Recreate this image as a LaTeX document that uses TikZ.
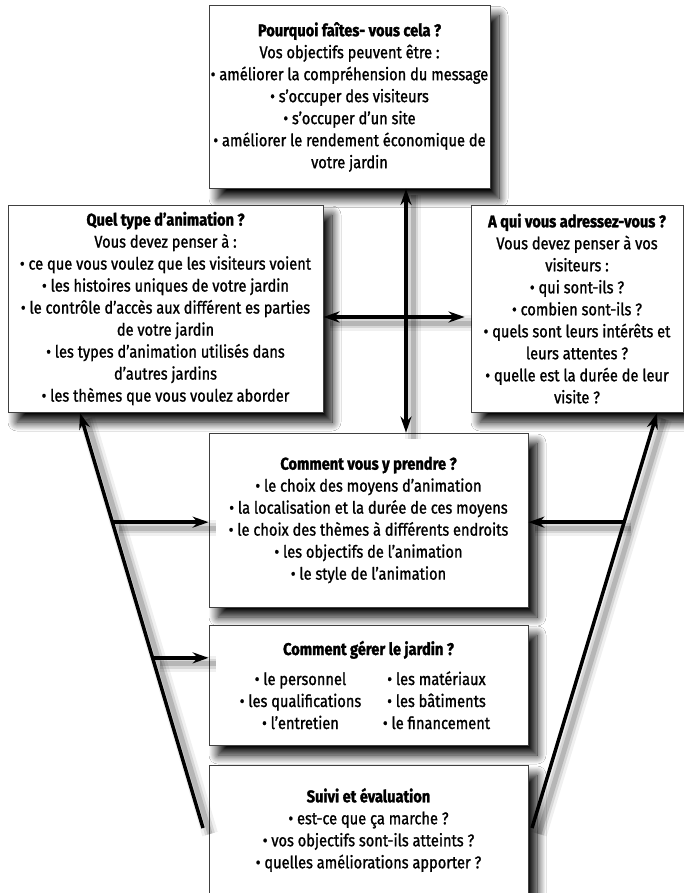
\documentclass[tikz,border=0pt]{standalone}
\usepackage{fontspec}
\setmainfont{Fira Sans}[FakeStretch=0.86, UprightFeatures={FakeBold=1.2}, BoldFeatures={FakeBold=1.5}]
\usetikzlibrary{arrows.meta, shadows.blur}
\tikzstyle{box} = [rectangle, draw=black!75, line width=0.8pt, fill=white, align=center, inner sep=0pt, font=\fontsize{17}{22}\selectfont, blur shadow={shadow xshift=9pt, shadow yshift=-10pt, shadow blur radius=9pt, shadow blur steps=15, shadow opacity=100}]
\tikzstyle{arrow} = [line width=3.5pt, -{Stealth[length=16pt,width=11pt]}]
\tikzstyle{darrow} = [line width=3.5pt, {Stealth[length=16pt,width=11pt]}-{Stealth[length=16pt,width=11pt]}]
\tikzstyle{soft} = [preaction={draw=black, -, line width=16pt, opacity=0.06, transform canvas={shift={(7pt,-6pt)}}},
  preaction={draw=black, -, line width=10pt, opacity=0.1, transform canvas={shift={(7pt,-6pt)}}},
  preaction={draw=black, -, line width=5pt, opacity=0.15, transform canvas={shift={(7pt,-6pt)}}}]

\begin{document}
\begin{tikzpicture}[x=1pt, y=-1pt]

\useasboundingbox (0,0) rectangle (684,893);
\clip (0,0) rectangle (684,893);
\fill[white] (0,0) rectangle (684,893);

%% NODES

\node (pourquoi) [box, minimum width=281pt, minimum height=183pt] at (349.5,97) {\textbf{Pourquoi faîtes- vous cela~?}\\
Vos objectifs peuvent être~:\\
• améliorer la compréhension du message\\
• s’occuper des visiteurs\\
• s’occuper d’un site\\
• améliorer le rendement économique de\\
votre jardin};
\node (quel) [box, minimum width=315pt, minimum height=207pt] at (165.5,308.5) {\textbf{Quel type d’animation~?}\\
Vous devez penser à~:\\
• ce que vous voulez que les visiteurs voient\\
• les histoires uniques de votre jardin\\
• le contrôle d’accès aux différent es parties\\
de votre jardin\\
• les types d’animation utilisés dans\\
d’autres jardins\\
• les thèmes que vous voulez aborder};
\node (aqui) [box, minimum width=212pt, minimum height=207pt] at (577,308.5) {\textbf{A qui vous adressez-vous~?}\\
Vous devez penser à vos\\
visiteurs~:\\
• qui sont-ils~?\\
• combien sont-ils~?\\
• quels sont leurs intérêts et\\
leurs attentes~?\\
• quelle est la durée de leur\\
visite~?};
\node (comment) [box, minimum width=319pt, minimum height=174pt] at (368.5,520) {\textbf{Comment vous y prendre~?}\\
• le choix des moyens d’animation\\
• la localisation et la durée de ces moyens\\
• le choix des thèmes à différents endroits\\
• les objectifs de l’animation\\
• le style de l’animation};
\node (gerer) [box, minimum width=319pt, minimum height=120pt] at (368.5,685) {\textbf{Comment gérer le jardin~?}\\[8pt]
\makebox[136pt]{• le personnel}\makebox[136pt]{• les matériaux}\\
\makebox[136pt]{• les qualifications}\makebox[136pt]{• les bâtiments}\\
\makebox[136pt]{• l’entretien}\makebox[136pt]{• le financement}};
\node (suivi) [box, minimum width=319pt, minimum height=130pt] at (368.5,830) {\textbf{Suivi et évaluation}\\
• est-ce que ça marche~?\\
• vos objectifs sont-ils atteints~?\\
• quelles améliorations apporter~?};

\coordinate (vx) at (406,0);
\coordinate (hy) at (0,317);
\coordinate (lfoot) at (203,828);
\coordinate (ltip) at (80,413);
\coordinate (rfoot) at (532,828);
\coordinate (rtip) at (657,413);
\path (lfoot) -- (ltip) coordinate[pos=0.737] (l1) coordinate[pos=0.41] (l2);
\path (rfoot) -- (rtip) coordinate[pos=0.737] (r1);

%% ARROWS

\draw [darrow, soft] (pourquoi.south -| vx) -- (comment.north -| vx);
\draw [darrow, soft] (quel.east |- hy) -- ([xshift=-6pt]aqui.west |- hy);
\draw [arrow, soft] (lfoot) -- (ltip);
\draw [arrow, soft] (rfoot) -- (rtip);
\draw [arrow, soft] (l1) -- (l1 -| comment.west);
\draw [arrow, soft] (l2) -- (l2 -| gerer.west);
\draw [arrow, soft] (r1) -- (r1 -| comment.east);

\end{tikzpicture}
\end{document}
